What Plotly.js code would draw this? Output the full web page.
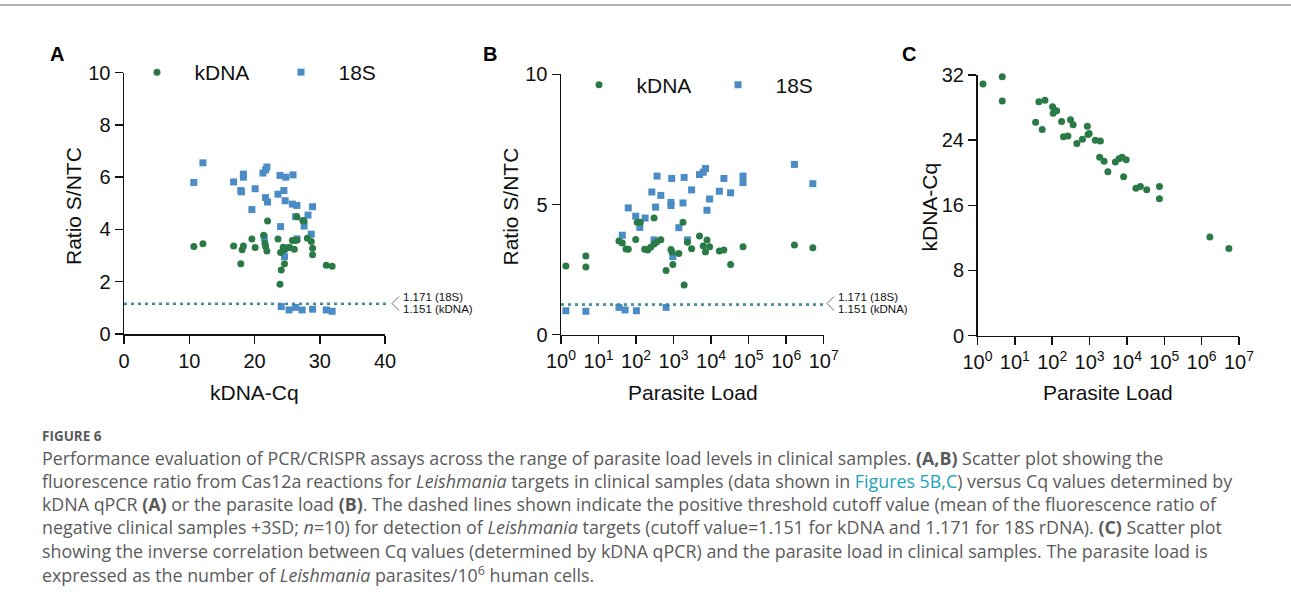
<!DOCTYPE html>
<html>
<head>
<meta charset="utf-8">
<script src="https://cdn.plot.ly/plotly-3.0.1.min.js"></script>
<style>
html,body{margin:0;padding:0;background:#ffffff;}
#chart{width:1291px;height:615px;}
</style>
</head>
<body>
<div id="chart"></div>
<script>
// ---------------- DATA ----------------
// Panel A: ratio S/NTC vs kDNA-Cq
const aKdnaCq    = [10.7,12.1,16.8,18.3,18.1,17.9,19.6,20.1,21.4,21.6,21.7,21.9,22.0,23.6,24.0,24.4,24.6,25.0,24.6,24.1,23.9,25.4,26.1,26.3,26.5,25.8,26.5,27.4,27.6,28.1,28.7,28.9,28.9,31.0,31.9];
const aKdnaRatio = [3.35,3.45,3.37,3.37,3.22,2.69,3.64,3.31,3.78,3.47,3.35,3.18,4.32,3.64,3.12,3.32,3.22,3.30,2.69,2.45,1.90,3.31,3.24,3.58,3.60,3.58,4.49,4.34,4.32,3.66,3.54,3.28,3.03,2.63,2.59];
const a18sCq     = [12.1,10.7,16.8,18.3,18.3,17.9,18.0,20.1,19.6,21.3,21.7,21.9,21.7,22.0,23.9,24.8,25.9,23.6,24.5,24.7,25.8,26.5,26.3,28.2,28.9,27.6,24.0,28.7,26.5,21.5,24.6,24.1,25.3,26.3,27.3,28.9,31.0,31.9];
const a18sRatio  = [6.55,5.80,5.82,6.12,6.00,5.49,5.44,5.56,4.76,6.16,6.28,6.39,5.22,5.05,6.07,6.00,6.09,5.35,5.49,5.10,4.97,4.92,4.49,4.55,4.87,4.13,4.11,3.82,3.64,3.68,2.96,1.05,0.92,1.02,0.92,0.95,0.92,0.87];

// Panel B: ratio S/NTC vs parasite load
const bKdnaLoad  = [1.35,4.6,4.6,35,43,54,62,98,107,129,170,204,245,302,355,457,302,631,851,912,955,1380,1780,1910,2340,3020,4900,6170,7080,7760,9120,16600,21900,33100,70800,1660000,5130000];
const bKdnaRatio = [2.64,3.02,2.60,3.60,3.52,3.29,3.28,3.66,4.32,4.32,3.28,3.25,3.36,3.48,3.56,3.65,4.48,2.47,3.27,3.18,2.70,3.12,4.32,1.91,3.55,3.30,3.79,3.41,3.18,3.64,3.38,3.21,3.25,2.70,3.38,3.44,3.34];
const b18sLoad   = [1.35,4.6,35,51,102,631,43,62,98,126,174,263,331,363,457,302,891,851,851,955,1910,1780,1380,2340,3020,4900,6170,7080,9120,7760,16600,21900,33100,70800,70800,1660000,5130000];
const b18sRatio  = [0.92,0.90,1.05,0.95,0.92,1.05,3.82,4.87,4.55,4.12,4.48,5.48,4.90,6.09,5.35,3.64,6.00,5.08,4.96,3.00,6.04,5.06,4.11,3.64,5.56,6.15,6.24,6.38,5.21,4.78,5.51,6.00,5.45,6.09,5.84,6.54,5.80];

// Panel C: kDNA-Cq vs parasite load
const cLoad = [1.4,4.6,4.6,44,64,36,54,102,131,106,178,200,263,309,363,457,646,871,912,977,1430,1950,1860,2450,3090,4900,6170,7410,9550,8130,17400,22900,33900,74100,74100,1660000,5370000];
const cCq   = [30.9,31.8,28.8,28.7,28.9,26.2,25.3,28.1,27.6,27.3,26.3,24.4,24.5,26.5,25.9,23.6,24.1,25.7,24.7,24.8,24.0,23.9,21.9,21.4,20.1,21.3,21.7,21.9,21.6,19.5,18.1,18.3,17.9,18.3,16.8,12.1,10.7];

// cutoffs
const cutoffKdna = 1.151;
const cutoff18S  = 1.171;

// tick values / labels
const aXTicks = [0,10,20,30,40];
const ratioTicksA = [0,2,4,6,8,10];
const ratioTicksB = [0,5,10];
const cqTicksC = [0,8,16,24,32];
const logExponents = [0,1,2,3,4,5,6,7];
const logTickVals = logExponents.map(e => Math.pow(10, e));
const logTickText = logExponents.map(e => '10<sup>' + e + '</sup>');

// ---------------- STYLE ----------------
const W = 1291, H = 615;
const px = v => v / W;
const py = v => 1 - v / H;
const GREEN = '#2a7a46';
const BLUE = '#4b8cc6';
const AX_FONT = 'Liberation Sans, Arial, Helvetica, sans-serif';
const CAP_FONT = 'Open Sans, Lato, sans-serif';

function axisBase(extra) {
  return Object.assign({
    showline: true, linecolor: '#111', linewidth: 1.5,
    ticks: 'outside', ticklen: 8, tickwidth: 1.5, tickcolor: '#111',
    showgrid: false, zeroline: false, fixedrange: true,
    tickfont: {family: AX_FONT, size: 20, color: '#111'},
    tickmode: 'array'
  }, extra);
}

const greenMarker = {symbol: 'circle', size: 7, color: GREEN};
const blueMarker = {symbol: 'square', size: 7, color: BLUE};
const NB = '\u00a0\u00a0\u00a0';

const traces = [
  {type: 'scatter', mode: 'markers', x: a18sCq, y: a18sRatio, xaxis: 'x', yaxis: 'y', cliponaxis: false,
   marker: blueMarker, name: NB + '18S', legend: 'legend', legendrank: 2, hoverinfo: 'skip'},
  {type: 'scatter', mode: 'markers', x: aKdnaCq, y: aKdnaRatio, xaxis: 'x', yaxis: 'y', cliponaxis: false,
   marker: greenMarker, name: NB + 'kDNA', legend: 'legend', legendrank: 1, hoverinfo: 'skip'},
  {type: 'scatter', mode: 'markers', x: b18sLoad, y: b18sRatio, xaxis: 'x2', yaxis: 'y2', cliponaxis: false,
   marker: blueMarker, name: NB + '18S', legend: 'legend2', legendrank: 2, hoverinfo: 'skip'},
  {type: 'scatter', mode: 'markers', x: bKdnaLoad, y: bKdnaRatio, xaxis: 'x2', yaxis: 'y2', cliponaxis: false,
   marker: greenMarker, name: NB + 'kDNA', legend: 'legend2', legendrank: 1, hoverinfo: 'skip'},
  {type: 'scatter', mode: 'markers', x: cLoad, y: cCq, xaxis: 'x3', yaxis: 'y3', cliponaxis: false,
   marker: greenMarker, name: 'kDNA', showlegend: false, hoverinfo: 'skip'}
];

const legendBase = {
  orientation: 'h', xanchor: 'left', yanchor: 'middle',
  bgcolor: 'rgba(0,0,0,0)', borderwidth: 0,
  font: {family: AX_FONT, size: 21, color: '#111'},
  entrywidthmode: 'pixels', itemclick: false, itemdoubleclick: false
};

const annotations = [];
function ann(text, x, y, opts) {
  annotations.push(Object.assign({
    text: text, x: px(x), y: py(y), xref: 'paper', yref: 'paper',
    showarrow: false, xanchor: 'center', yanchor: 'middle',
    font: {family: AX_FONT, size: 21, color: '#111'}
  }, opts || {}));
}
// panel letters
const letterFont = {family: AX_FONT, size: 20, color: '#000'};
ann('<b>A</b>', 57, 54, {font: letterFont});
ann('<b>B</b>', 490, 54, {font: letterFont});
ann('<b>C</b>', 909, 54, {font: letterFont});
// axis titles
ann('kDNA-Cq', 254.5, 392);
ann('Parasite Load', 693, 392);
ann('Parasite Load', 1108, 392);
ann('Ratio S/NTC', 73.5, 206.5, {textangle: -90});
ann('Ratio S/NTC', 510, 206.5, {textangle: -90});
ann('kDNA-Cq', 928.5, 207, {textangle: -90});
// threshold labels
const thrFont = {family: AX_FONT, size: 11.5, color: '#111'};
ann(cutoff18S.toFixed(3) + ' (18S)', 400.5, 296.5, {xanchor: 'left', font: thrFont});
ann(cutoffKdna.toFixed(3) + ' (kDNA)', 400.5, 309, {xanchor: 'left', font: thrFont});
ann(cutoff18S.toFixed(3) + ' (18S)', 836, 296.5, {xanchor: 'left', font: thrFont});
ann(cutoffKdna.toFixed(3) + ' (kDNA)', 836, 309, {xanchor: 'left', font: thrFont});

// caption
const capColor = '#5a5a5a';
ann('<b>FIGURE 6</b>', 40, 435.5, {xanchor: 'left', font: {family: CAP_FONT, size: 13.5, color: capColor}});
const captionLines = [
  'Performance evaluation of PCR/CRISPR assays across the range of parasite load levels in clinical samples. <b>(A,B)</b> Scatter plot showing the',
  'fluorescence ratio from Cas12a reactions for <i>Leishmania</i> targets in clinical samples (data shown in <span style="color:#1ba3b8">Figures 5B,C</span>) versus Cq values determined by',
  'kDNA qPCR <b>(A)</b> or the parasite load <b>(B)</b>. The dashed lines shown indicate the positive threshold cutoff value (mean of the fluorescence ratio of',
  'negative clinical samples +3SD; <i>n</i>=10) for detection of <i>Leishmania</i> targets (cutoff value=1.151 for kDNA and 1.171 for 18S rDNA). <b>(C)</b> Scatter plot',
  'showing the inverse correlation between Cq values (determined by kDNA qPCR) and the parasite load in clinical samples. The parasite load is',
  'expressed as the number of <i>Leishmania</i> parasites/10<sup>6</sup> human cells.'
];
captionLines.forEach((t, i) => {
  ann(t, 40, 457.5 + i * 23.3, {xanchor: 'left', align: 'left', font: {family: CAP_FONT, size: 17.85, color: capColor}});
});

const shapes = [
  // top rule
  {type: 'line', xref: 'paper', yref: 'paper', x0: 0, x1: 1, y0: py(5), y1: py(5), line: {color: '#b3b3b3', width: 2}},
  // cutoff lines A
  {type: 'line', xref: 'x domain', yref: 'y', x0: 0, x1: 1.01, y0: cutoffKdna, y1: cutoffKdna, line: {color: GREEN, width: 2, dash: '3px,4px'}},
  {type: 'line', xref: 'x domain', yref: 'y', x0: 0, x1: 1.01, y0: cutoff18S, y1: cutoff18S, line: {color: '#4a8db5', width: 2, dash: '3px,4px'}},
  // cutoff lines B
  {type: 'line', xref: 'x2 domain', yref: 'y2', x0: 0, x1: 1.005, y0: cutoffKdna, y1: cutoffKdna, line: {color: GREEN, width: 2, dash: '3px,4px'}},
  {type: 'line', xref: 'x2 domain', yref: 'y2', x0: 0, x1: 1.005, y0: cutoff18S, y1: cutoff18S, line: {color: '#4a8db5', width: 2, dash: '3px,4px'}},
  // brackets
  {type: 'path', xref: 'paper', yref: 'paper',
   path: 'M ' + px(399) + ',' + py(296.5) + ' L ' + px(392) + ',' + py(303.5) + ' L ' + px(399) + ',' + py(310.5),
   line: {color: '#444', width: 0.8}},
  {type: 'path', xref: 'paper', yref: 'paper',
   path: 'M ' + px(834) + ',' + py(296.5) + ' L ' + px(827) + ',' + py(303.5) + ' L ' + px(834) + ',' + py(310.5),
   line: {color: '#444', width: 0.8}}
];

const layout = {
  width: W, height: H,
  margin: {l: 0, r: 0, t: 0, b: 0},
  paper_bgcolor: '#ffffff', plot_bgcolor: 'rgba(0,0,0,0)',
  showlegend: true,
  legend: Object.assign({}, legendBase, {x: px(137), y: py(72.5), entrywidth: 99}),
  legend2: Object.assign({}, legendBase, {x: px(579), y: py(85), entrywidth: 94}),
  xaxis: axisBase({domain: [px(124), px(385)], anchor: 'y', range: [0, 40], tickvals: aXTicks}),
  yaxis: axisBase({domain: [py(334), py(72.7)], anchor: 'x', range: [0, 10], tickvals: ratioTicksA}),
  xaxis2: axisBase({domain: [px(561), px(823.7)], anchor: 'y2', type: 'log', range: [0, 7], tickvals: logTickVals, ticktext: logTickText}),
  yaxis2: axisBase({domain: [py(334.7), py(74.3)], anchor: 'x2', range: [0, 10], tickvals: ratioTicksB}),
  xaxis3: axisBase({domain: [px(977.5), px(1239)], anchor: 'y3', type: 'log', range: [0, 7], tickvals: logTickVals, ticktext: logTickText}),
  yaxis3: axisBase({domain: [py(335.5), py(75)], anchor: 'x3', range: [0, 32], tickvals: cqTicksC}),
  annotations: annotations,
  shapes: shapes
};

Plotly.newPlot('chart', traces, layout, {staticPlot: true, displayModeBar: false});
</script>
</body>
</html>
